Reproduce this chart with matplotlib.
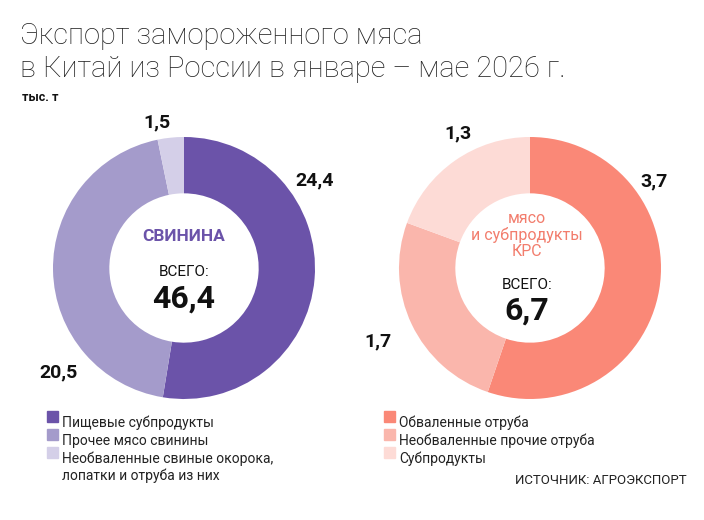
import matplotlib
matplotlib.use("Agg")
import matplotlib.pyplot as plt
from matplotlib.patches import Rectangle

plt.rcParams["font.family"] = ["Roboto", "DejaVu Sans"]

W, H = 704, 520

# data
pork_labels = ["Пищевые субпродукты", "Прочее мясо свинины",
               "Необваленные свиные окорока,\nлопатки и отруба из них"]
pork_values = [24.4, 20.5, 1.5]
pork_total = "46,4"
beef_labels = ["Обваленные отруба", "Необваленные прочие отруба", "Субпродукты"]
beef_values = [3.7, 1.7, 1.3]
beef_total = "6,7"

pork_colors = ["#6b53a9", "#a49bcb", "#d4cfe8"]
beef_colors = ["#fa8877", "#fab6ac", "#fddbd6"]

# label placement in donut radius units
pork_lab_pos = [(1.0, 0.67), (-0.96, -0.80), (-0.21, 1.11)]
beef_lab_pos = [(0.95, 0.66), (-1.16, -0.56), (-0.55, 1.03)]


def fmt(v):
    return f"{v:.1f}".replace(".", ",")


def px(x, y):
    return x / W, 1 - y / H


fig = plt.figure(figsize=(W / 100, H / 100), dpi=100)

R = 131


def donut(cx, cy, values, colors, lab_pos):
    ax = fig.add_axes([(cx - R) / W, (H - cy - R) / H, 2 * R / W, 2 * R / H])
    ax.pie(values, colors=colors, startangle=90, counterclock=False,
           radius=1, wedgeprops=dict(width=0.43, linewidth=0))
    ax.set_xlim(-1, 1)
    ax.set_ylim(-1, 1)
    ax.set_aspect("equal")
    ax.axis("off")
    for v, (lx, ly) in zip(values, lab_pos):
        ax.text(lx, ly, fmt(v), ha="center", va="center", fontsize=14,
                fontweight="bold", color="#111111", clip_on=False)
    return ax


donut(184, 268, pork_values, pork_colors, pork_lab_pos)
donut(530, 268, beef_values, beef_colors, beef_lab_pos)

# title
fig.text(*px(20, 44), "Экспорт замороженного мяса", fontsize=21,
         fontweight="light", color="#222222", va="baseline")
fig.text(*px(20, 77), "в Китай из России в январе – мае 2026 г.", fontsize=21,
         fontweight="light", color="#222222", va="baseline")
fig.text(*px(22, 101), "тыс. т", fontsize=9, fontweight="bold", color="#111111",
         va="baseline")

# centre texts
fig.text(*px(184, 237), "СВИНИНА", fontsize=12.5, fontweight="bold",
         color="#6b53a9", ha="center", va="center")
fig.text(*px(184, 272), "ВСЕГО:", fontsize=11, color="#111111",
         ha="center", va="center")
fig.text(*px(184, 299), pork_total, fontsize=23, fontweight="bold",
         color="#111111", ha="center", va="center")

fig.text(*px(527, 235), "мясо\nи субпродукты\nКРС", fontsize=11.5,
         color="#f27d6d", ha="center", va="center", linespacing=1.05)
fig.text(*px(527, 285), "ВСЕГО:", fontsize=11, color="#111111",
         ha="center", va="center")
fig.text(*px(527, 311), beef_total, fontsize=23, fontweight="bold",
         color="#111111", ha="center", va="center")

# legends
def legend(x, y0, labels, colors):
    y = y0
    for lab, c in zip(labels, colors):
        fig.patches.append(Rectangle(px(x, y + 6), 11 / W, 11 / H, color=c,
                                     transform=fig.transFigure, figure=fig))
        fig.text(*px(x + 15, y), lab, fontsize=10, color="#222222",
                 va="top", linespacing=1.15)
        y += 18


legend(47, 416, pork_labels, pork_colors)
legend(384, 416, beef_labels, beef_colors)

fig.text(*px(687, 481), "ИСТОЧНИК: АГРОЭКСПОРТ", fontsize=9.5,
         color="#222222", ha="right", va="center")

fig.savefig("out.png", dpi=100, facecolor="white")
